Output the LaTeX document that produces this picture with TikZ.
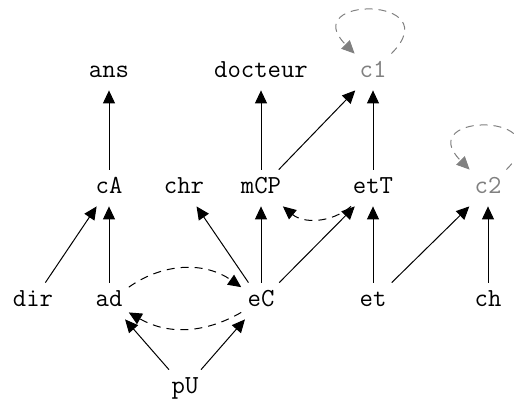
\documentclass[tikz,border=0pt]{standalone}
\usepackage{fontspec}
\usetikzlibrary{arrows.meta}
\begin{document}
\begin{tikzpicture}[x=0.5pt,y=0.5pt,
  v/.style={font=\ttfamily\fontsize{13}{15}\selectfont, text height=8pt,
            text depth=2.5pt, inner xsep=3pt, inner ysep=3.75pt},
  faint/.style={v, text=gray},
  arr/.style={-{Triangle[length=6.5pt,width=6pt]}, line width=0.5pt},
  dsh/.style={arr, dash pattern=on 4pt off 3pt},
  selfloop/.style={dsh, draw=gray}]
\useasboundingbox (0,0) rectangle (514,401);

% top row
\node[v] (ans) at (109,329) {ans};
\node[v] (docteur) at (261,329) {docteur};
\node[faint] (c1) at (373,329) {c1};
% second row
\node[v] (cA) at (109,213) {cA};
\node[v] (chr) at (184,213) {chr};
\node[v] (mCP) at (261,213) {mCP};
\node[v] (etT) at (373,213) {etT};
\node[faint] (c2) at (488,213) {c2};
% third row
\node[v] (dir) at (33,100) {dir};
\node[v] (ad) at (109,100) {ad};
\node[v] (eC) at (261,100) {eC};
\node[v] (et) at (373,100) {et};
\node[v] (ch) at (488,100) {ch};
% bottom
\node[v] (pU) at (185,13) {pU};

% solid edges
\draw[arr] (cA) -- (ans);
\draw[arr] (dir) -- (cA);
\draw[arr] (ad) -- (cA);
\draw[arr] (eC) -- (chr);
\draw[arr] (eC) -- (mCP);
\draw[arr] (eC) -- (etT);
\draw[arr] (mCP) -- (docteur);
\draw[arr] (mCP) -- (c1);
\draw[arr] (etT) -- (c1);
\draw[arr] (et) -- (etT);
\draw[arr] (et) -- (c2);
\draw[arr] (ch) -- (c2);
\draw[arr] (pU) -- (ad);
\draw[arr] (pU) -- (eC);

% dashed edges
\draw[dsh] (ad) to[bend left=35] (eC);
\draw[dsh] (eC) to[bend left=30] (ad);
\draw[dsh] (etT) to[bend left=40] (mCP);

% self loops
\draw[selfloop] (c1) to[out=45,in=135,distance=41pt] (c1);
\draw[selfloop] (c2) to[out=45,in=135,distance=41pt] (c2);
\end{tikzpicture}
\end{document}
